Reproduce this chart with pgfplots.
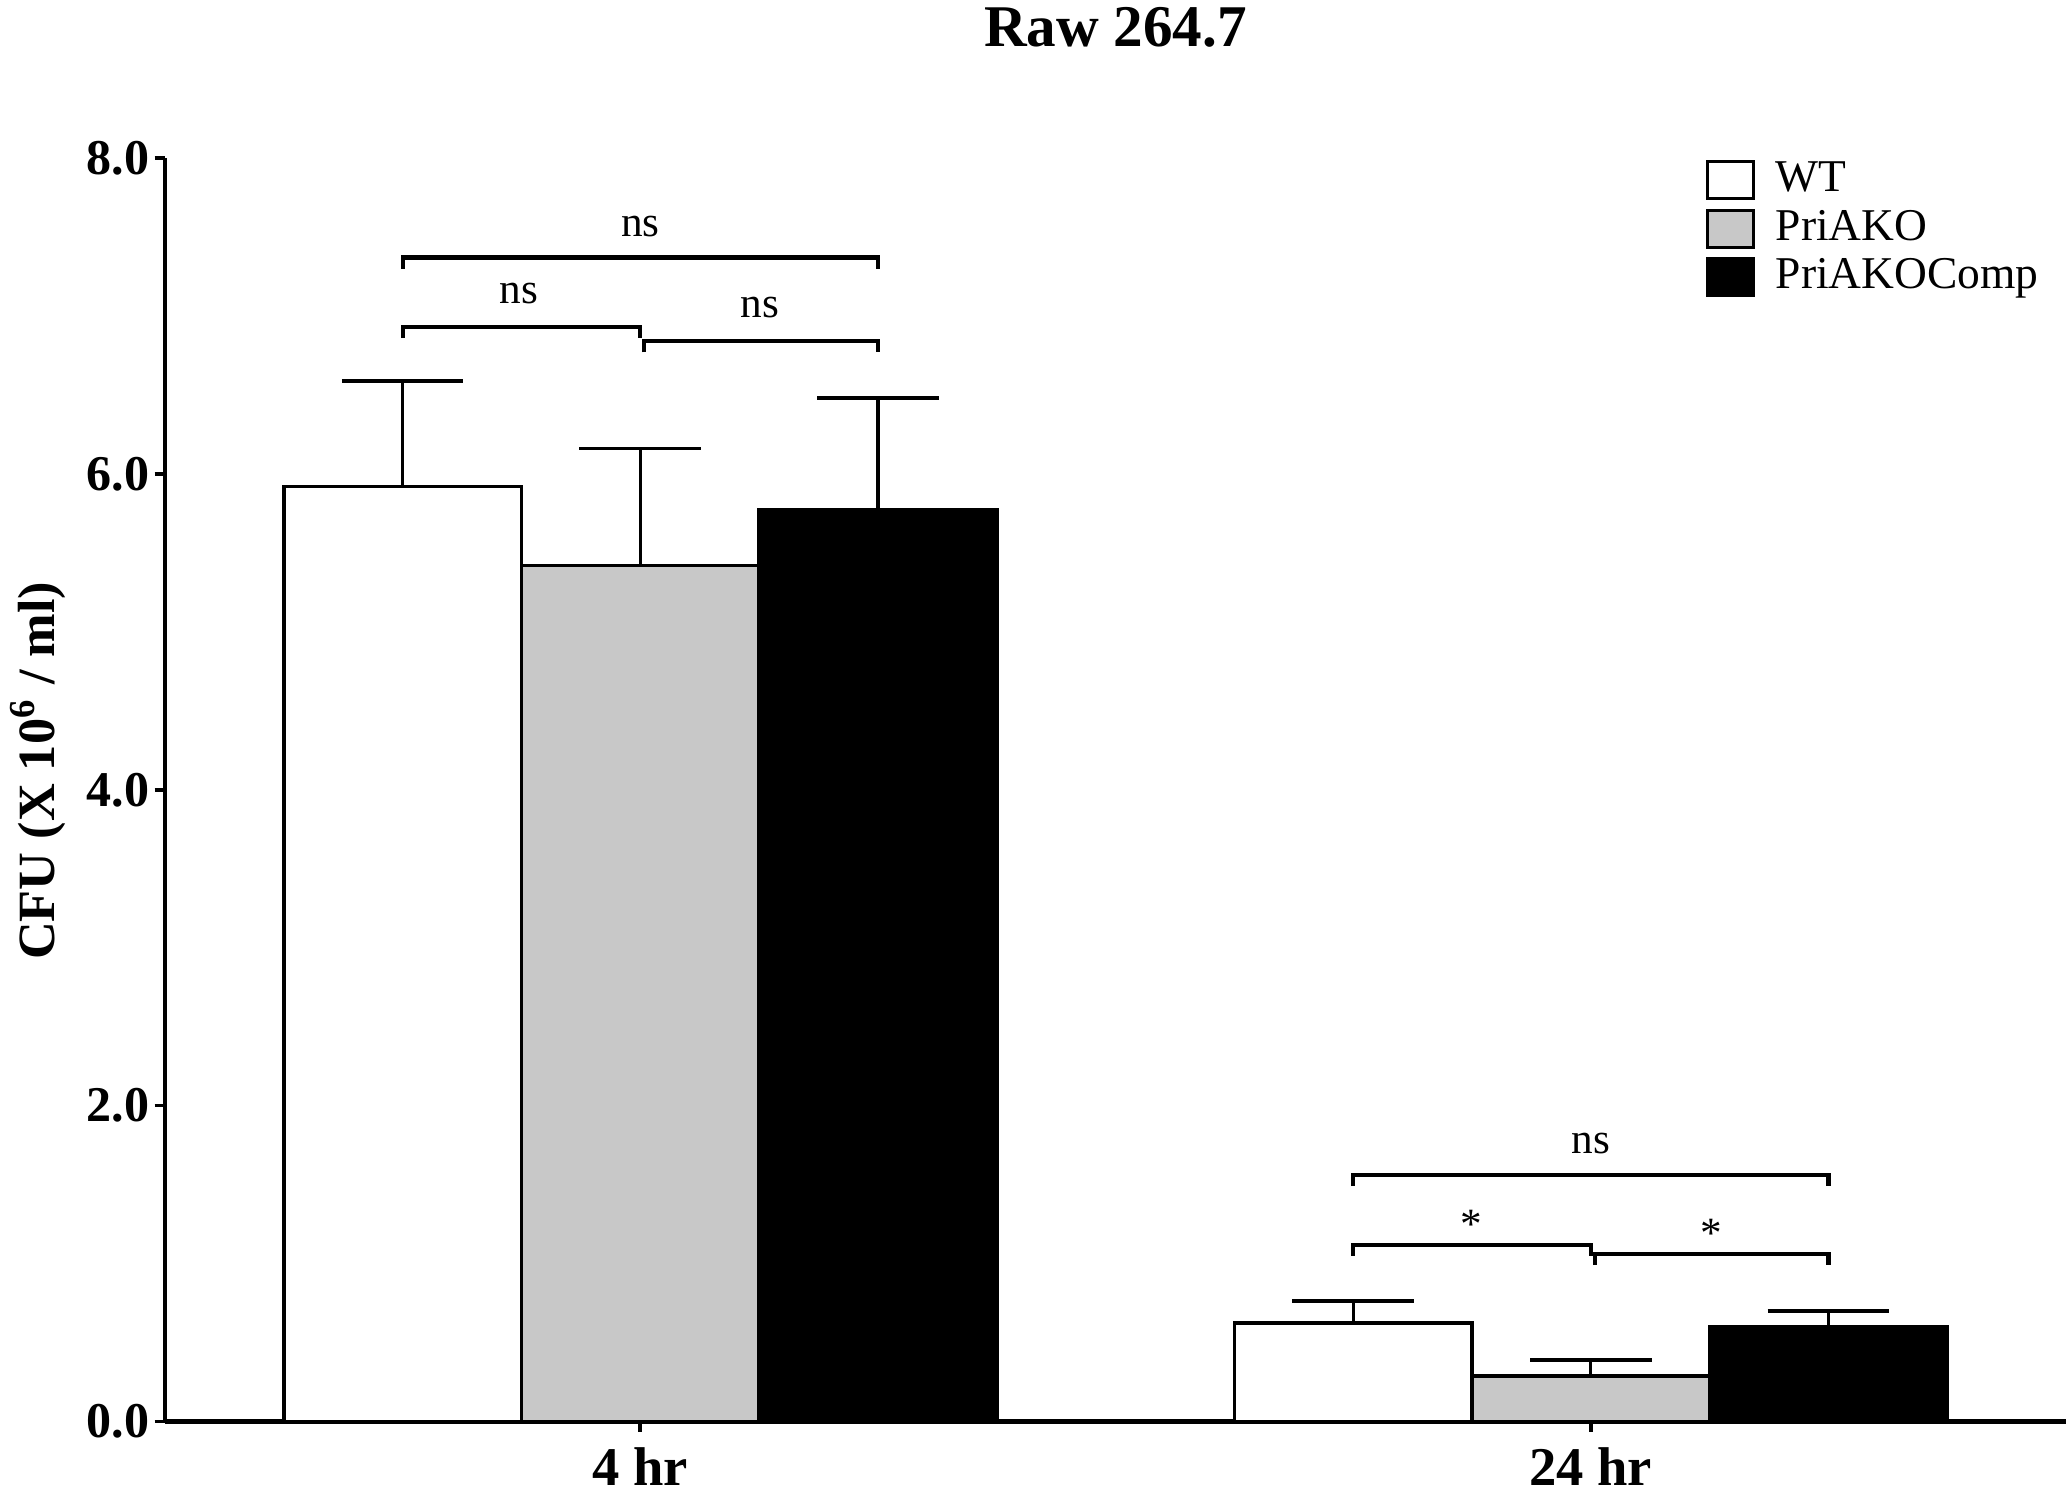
\documentclass[border=0pt]{standalone}
\usepackage{fontspec}
\setmainfont{Liberation Serif}
\usepackage{pgfplots}
\pgfplotsset{compat=1.18}
\definecolor{kogray}{RGB}{200,200,200}

\pgfplotsset{
  mybar/.style={
    ybar, bar width=0.25, bar shift=0pt, line width=0.8pt, draw=black,
    error bars/.cd, y dir=plus, y explicit,
    error bar style={line width=0.7pt, black},
    error mark options={rotate=90, mark size=0.47cm, line width=0.8pt, black},
    /pgfplots/.cd,
    legend image code/.code={\draw[##1, line width=0.7pt] (0cm,-0.143cm) rectangle (0.356cm,0.143cm);},
  },
  bracket/.style={black, line width=0.9pt, forget plot, mark=none, sharp plot},
}

\begin{document}
\begin{tikzpicture}
\begin{axis}[
  name=ax,
  scale only axis,
  width=14.69cm, height=9.763cm,
  xmin=-0.5, xmax=1.5, ymin=0, ymax=8,
  axis lines*=left,
  axis line style={line width=0.9pt},
  xtick={0,1}, xticklabels={4 hr,24 hr},
  ytick={0,2,4,6,8},
  tick align=outside, major tick length=0.08cm,
  tick style={line width=0.8pt, black},
  /pgf/number format/assume math mode=true,
  yticklabel style={font=\fontsize{11}{11}\selectfont\bfseries, inner xsep=1pt,
    /pgf/number format/.cd, fixed, fixed zerofill, precision=1},
  xticklabel style={font=\fontsize{12}{12}\selectfont\bfseries},
  title={Raw 264.7},
  every axis title shift=0pt,
  title style={at={(axis description cs:0.5,1)}, anchor=base, yshift=0.858cm,
    font=\fontsize{13}{13}\selectfont\bfseries},
  ylabel={CFU (X 10\textsuperscript{6} / ml)},
  every axis y label/.style={at={(axis description cs:-0.0667,0.515)}, rotate=90,
    anchor=center, font=\fontsize{11.5}{12}\selectfont\bfseries},
  legend style={at={(rel axis cs:0.81,1.0)}, anchor=north west, yshift=-0.01cm,
    draw=none, fill=none, font=\fontsize{10}{10}\selectfont,
    row sep=1.8pt, inner sep=0pt, nodes={inner sep=0pt},
    /tikz/every odd column/.append style={column sep=0.16cm}},
  legend cell align=left,
  clip=false,
]
% bars: mean + SD, groups at x=0 (4 hr) and x=1 (24 hr)
\addplot[mybar, fill=white]
  coordinates {(-0.25,5.92) +- (0,0.67) (0.75,0.625) +- (0,0.137)};
\addplot[mybar, fill=kogray]
  coordinates {(0,5.42) +- (0,0.74) (1,0.29) +- (0,0.10)};
\addplot[mybar, fill=black]
  coordinates {(0.25,5.77) +- (0,0.71) (1.25,0.60) +- (0,0.10)};
\legend{WT,PriAKO,PriAKOComp}

% significance brackets
\addplot[bracket] coordinates {(-0.25,7.30) (-0.25,7.37) (0.25,7.37) (0.25,7.30)};
\addplot[bracket] coordinates {(-0.25,6.86) (-0.25,6.93) (0.0,6.93) (0.0,6.86)};
\addplot[bracket] coordinates {(0.004,6.77) (0.004,6.84) (0.25,6.84) (0.25,6.77)};
\addplot[bracket] coordinates {(0.75,1.49) (0.75,1.56) (1.25,1.56) (1.25,1.49)};
\addplot[bracket] coordinates {(0.75,1.05) (0.75,1.12) (1.0,1.12) (1.0,1.05)};
\addplot[bracket] coordinates {(1.004,0.99) (1.004,1.06) (1.25,1.06) (1.25,0.99)};

\node[anchor=base, font=\fontsize{9.5}{10}\selectfont] at (axis cs:0,7.50) {ns};
\node[anchor=base, font=\fontsize{9.5}{10}\selectfont] at (axis cs:-0.128,7.08) {ns};
\node[anchor=base, font=\fontsize{9.5}{10}\selectfont] at (axis cs:0.126,6.99) {ns};
\node[anchor=base, font=\fontsize{9.5}{10}\selectfont] at (axis cs:1,1.70) {ns};
\node[anchor=base, font=\fontsize{9.5}{10}\selectfont] at (axis cs:0.874,1.16) {*};
\node[anchor=base, font=\fontsize{9.5}{10}\selectfont] at (axis cs:1.127,1.10) {*};
\end{axis}
\pgfresetboundingbox
\path ([shift={(-1.275cm,-0.556cm)}]ax.south west) rectangle ([shift={(0.03cm,1.221cm)}]ax.north east);
\end{tikzpicture}
\end{document}
